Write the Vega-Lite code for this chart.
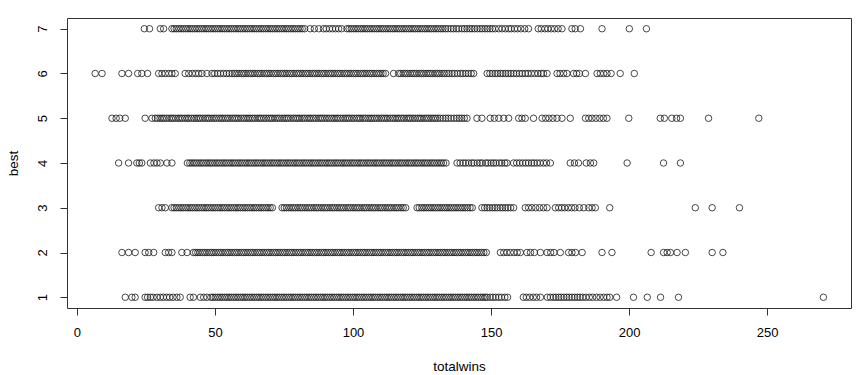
{
"$schema":"https://vega.github.io/schema/vega-lite/v6.json",
"width":784,"height":290,"autosize":"none",
"padding":{"left":67,"top":18,"right":15,"bottom":67},
"background":"white",
"config":{"view":{"stroke":"#333","strokeWidth":1}},
"datasets":{"pts":[
{"w":24.4,"b":7},{"w":26.3,"b":7},{"w":30.2,"b":7},{"w":31.4,"b":7},
{"w":34.4,"b":7},{"w":35.2,"b":7},{"w":36,"b":7},{"w":36.9,"b":7},{"w":37.7,"b":7},{"w":38.5,"b":7},{"w":39.4,"b":7},{"w":40.2,"b":7},{"w":41,"b":7},{"w":41.8,"b":7},{"w":42.7,"b":7},{"w":43.5,"b":7},{"w":44.3,"b":7},{"w":45.2,"b":7},{"w":46,"b":7},{"w":46.8,"b":7},{"w":47.6,"b":7},{"w":48.5,"b":7},{"w":49.3,"b":7},{"w":50.1,"b":7},{"w":51,"b":7},{"w":51.8,"b":7},{"w":52.6,"b":7},{"w":53.4,"b":7},{"w":54.3,"b":7},{"w":55.1,"b":7},{"w":55.9,"b":7},{"w":56.8,"b":7},{"w":57.6,"b":7},{"w":58.4,"b":7},{"w":59.2,"b":7},{"w":60.1,"b":7},{"w":60.9,"b":7},{"w":61.7,"b":7},{"w":62.6,"b":7},{"w":63.4,"b":7},{"w":64.2,"b":7},{"w":65,"b":7},{"w":65.9,"b":7},{"w":66.7,"b":7},{"w":67.5,"b":7},{"w":68.4,"b":7},{"w":69.2,"b":7},{"w":70,"b":7},{"w":70.8,"b":7},{"w":71.7,"b":7},{"w":72.5,"b":7},{"w":73.3,"b":7},{"w":74.2,"b":7},{"w":75,"b":7},{"w":75.8,"b":7},{"w":76.6,"b":7},{"w":77.5,"b":7},{"w":78.3,"b":7},{"w":79.1,"b":7},{"w":80,"b":7},{"w":80.8,"b":7},{"w":81.6,"b":7},{"w":82.5,"b":7},
{"w":84.5,"b":7},{"w":86,"b":7},{"w":87.6,"b":7},
{"w":89.3,"b":7},{"w":90.3,"b":7},{"w":91.5,"b":7},{"w":92.6,"b":7},{"w":93.7,"b":7},{"w":94.8,"b":7},{"w":95.9,"b":7},
{"w":97.8,"b":7},{"w":98.6,"b":7},{"w":99.4,"b":7},{"w":100.3,"b":7},{"w":101.1,"b":7},{"w":101.9,"b":7},{"w":102.8,"b":7},{"w":103.6,"b":7},{"w":104.4,"b":7},{"w":105.2,"b":7},{"w":106.1,"b":7},{"w":106.9,"b":7},{"w":107.7,"b":7},{"w":108.6,"b":7},{"w":109.4,"b":7},{"w":110.2,"b":7},{"w":111,"b":7},{"w":111.9,"b":7},{"w":112.7,"b":7},{"w":113.5,"b":7},{"w":114.4,"b":7},{"w":115.2,"b":7},{"w":116,"b":7},{"w":116.8,"b":7},{"w":117.7,"b":7},{"w":118.5,"b":7},{"w":119.3,"b":7},{"w":120.2,"b":7},{"w":121,"b":7},{"w":121.8,"b":7},{"w":122.6,"b":7},{"w":123.5,"b":7},{"w":124.3,"b":7},{"w":125.1,"b":7},{"w":126,"b":7},{"w":126.8,"b":7},{"w":127.6,"b":7},{"w":128.4,"b":7},{"w":129.3,"b":7},{"w":130.1,"b":7},{"w":130.9,"b":7},{"w":131.8,"b":7},{"w":132.6,"b":7},{"w":133.5,"b":7},{"w":134.4,"b":7},{"w":135.5,"b":7},{"w":136.4,"b":7},{"w":137.4,"b":7},{"w":138.3,"b":7},
{"w":139.5,"b":7},{"w":140.4,"b":7},{"w":141.3,"b":7},{"w":142.3,"b":7},{"w":143.1,"b":7},{"w":144,"b":7},{"w":145,"b":7},{"w":146,"b":7},{"w":146.8,"b":7},{"w":147.8,"b":7},{"w":148.7,"b":7},{"w":149.6,"b":7},{"w":150.5,"b":7},{"w":151.5,"b":7},{"w":152.8,"b":7},
{"w":154,"b":7},{"w":155.2,"b":7},{"w":156.4,"b":7},{"w":157.3,"b":7},{"w":158.5,"b":7},{"w":159.6,"b":7},{"w":160.8,"b":7},{"w":162.2,"b":7},{"w":163.6,"b":7},
{"w":167.1,"b":7},{"w":168.2,"b":7},{"w":169.5,"b":7},{"w":170.6,"b":7},{"w":171.8,"b":7},{"w":173,"b":7},{"w":174.3,"b":7},{"w":175.7,"b":7},
{"w":179.3,"b":7},{"w":180.5,"b":7},{"w":182.4,"b":7},{"w":190.2,"b":7},{"w":200.1,"b":7},{"w":206.3,"b":7},
{"w":6.6,"b":6},{"w":9.1,"b":6},{"w":16.3,"b":6},{"w":18.7,"b":6},{"w":22,"b":6},{"w":23.5,"b":6},{"w":25.6,"b":6},{"w":29.6,"b":6},{"w":30.8,"b":6},{"w":32,"b":6},{"w":33.3,"b":6},{"w":34.4,"b":6},{"w":35.6,"b":6},{"w":39.2,"b":6},{"w":40.5,"b":6},{"w":41.8,"b":6},{"w":43,"b":6},{"w":44.1,"b":6},{"w":45.3,"b":6},{"w":47.1,"b":6},{"w":48.9,"b":6},{"w":49.9,"b":6},{"w":51,"b":6},{"w":52,"b":6},{"w":53.1,"b":6},{"w":54.2,"b":6},{"w":55.2,"b":6},{"w":56.2,"b":6},
{"w":57.1,"b":6},{"w":57.9,"b":6},{"w":58.7,"b":6},{"w":59.6,"b":6},{"w":60.4,"b":6},{"w":61.2,"b":6},{"w":62.1,"b":6},{"w":62.9,"b":6},{"w":63.7,"b":6},{"w":64.5,"b":6},{"w":65.4,"b":6},{"w":66.2,"b":6},{"w":67,"b":6},{"w":67.9,"b":6},{"w":68.7,"b":6},{"w":69.5,"b":6},{"w":70.3,"b":6},{"w":71.2,"b":6},{"w":72,"b":6},{"w":72.8,"b":6},{"w":73.7,"b":6},{"w":74.5,"b":6},{"w":75.3,"b":6},{"w":76.1,"b":6},{"w":77,"b":6},{"w":77.8,"b":6},{"w":78.6,"b":6},{"w":79.5,"b":6},{"w":80.3,"b":6},{"w":81.1,"b":6},{"w":81.9,"b":6},{"w":82.8,"b":6},{"w":83.6,"b":6},{"w":84.4,"b":6},{"w":85.3,"b":6},{"w":86.1,"b":6},{"w":86.9,"b":6},{"w":87.7,"b":6},{"w":88.6,"b":6},{"w":89.4,"b":6},{"w":90.2,"b":6},{"w":91.1,"b":6},{"w":91.9,"b":6},{"w":92.7,"b":6},{"w":93.5,"b":6},{"w":94.4,"b":6},{"w":95.2,"b":6},{"w":96,"b":6},{"w":96.9,"b":6},{"w":97.7,"b":6},{"w":98.5,"b":6},{"w":99.3,"b":6},{"w":100.2,"b":6},{"w":101,"b":6},{"w":101.8,"b":6},{"w":102.7,"b":6},{"w":103.5,"b":6},{"w":104.3,"b":6},{"w":105.1,"b":6},{"w":106,"b":6},{"w":106.8,"b":6},{"w":107.6,"b":6},{"w":108.5,"b":6},{"w":109.3,"b":6},{"w":110.1,"b":6},{"w":110.9,"b":6},{"w":111.8,"b":6},
{"w":114.7,"b":6},
{"w":116.5,"b":6},{"w":117.3,"b":6},{"w":118.2,"b":6},{"w":119,"b":6},{"w":119.8,"b":6},{"w":120.7,"b":6},{"w":121.5,"b":6},{"w":122.3,"b":6},{"w":123.1,"b":6},{"w":124,"b":6},{"w":124.8,"b":6},{"w":125.6,"b":6},{"w":126.5,"b":6},{"w":127.3,"b":6},{"w":128.1,"b":6},{"w":128.9,"b":6},{"w":129.8,"b":6},{"w":130.6,"b":6},{"w":131.4,"b":6},{"w":132.3,"b":6},{"w":133.1,"b":6},{"w":134,"b":6},{"w":134.8,"b":6},{"w":135.9,"b":6},{"w":136.8,"b":6},{"w":137.8,"b":6},{"w":138.9,"b":6},{"w":139.8,"b":6},{"w":140.8,"b":6},{"w":141.8,"b":6},{"w":142.8,"b":6},{"w":143.7,"b":6},
{"w":148.6,"b":6},{"w":149.6,"b":6},{"w":150.5,"b":6},{"w":151.5,"b":6},{"w":152.4,"b":6},{"w":153.4,"b":6},{"w":154.3,"b":6},{"w":155.3,"b":6},{"w":156.2,"b":6},{"w":157.2,"b":6},{"w":158.2,"b":6},{"w":159.2,"b":6},{"w":160.3,"b":6},{"w":161.3,"b":6},{"w":162.4,"b":6},
{"w":163.4,"b":6},{"w":164.6,"b":6},{"w":165.8,"b":6},{"w":167,"b":6},{"w":168.2,"b":6},{"w":169,"b":6},
{"w":170.3,"b":6},{"w":173.9,"b":6},{"w":175,"b":6},{"w":176.3,"b":6},{"w":177.5,"b":6},{"w":179.9,"b":6},{"w":181,"b":6},{"w":182,"b":6},{"w":184.2,"b":6},{"w":188.4,"b":6},{"w":189.6,"b":6},{"w":190.8,"b":6},{"w":192,"b":6},{"w":193.5,"b":6},{"w":196.8,"b":6},{"w":201.9,"b":6},
{"w":12.7,"b":5},{"w":14.2,"b":5},{"w":15.5,"b":5},{"w":17.5,"b":5},{"w":24.7,"b":5},{"w":27.2,"b":5},
{"w":28.4,"b":5},{"w":29.2,"b":5},{"w":30.1,"b":5},{"w":30.9,"b":5},{"w":31.6,"b":5},{"w":32.5,"b":5},{"w":33.4,"b":5},{"w":34.2,"b":5},{"w":34.9,"b":5},{"w":35.8,"b":5},{"w":36.7,"b":5},{"w":37.4,"b":5},{"w":38.2,"b":5},{"w":39.1,"b":5},{"w":39.9,"b":5},{"w":40.6,"b":5},{"w":41.5,"b":5},{"w":42.4,"b":5},{"w":43.2,"b":5},{"w":44,"b":5},{"w":44.7,"b":5},{"w":45.6,"b":5},{"w":46.5,"b":5},{"w":47.3,"b":5},{"w":48,"b":5},{"w":48.9,"b":5},{"w":49.7,"b":5},{"w":50.5,"b":5},{"w":51.4,"b":5},{"w":52.2,"b":5},{"w":52.9,"b":5},{"w":53.8,"b":5},{"w":54.6,"b":5},{"w":55.4,"b":5},{"w":56.3,"b":5},{"w":57.1,"b":5},{"w":57.9,"b":5},{"w":58.6,"b":5},{"w":59.5,"b":5},{"w":60.4,"b":5},{"w":61.2,"b":5},{"w":62,"b":5},{"w":62.7,"b":5},{"w":63.6,"b":5},{"w":64.4,"b":5},{"w":65.3,"b":5},{"w":66.1,"b":5},{"w":66.8,"b":5},{"w":67.7,"b":5},{"w":68.5,"b":5},{"w":69.4,"b":5},{"w":70.2,"b":5},{"w":70.9,"b":5},{"w":71.8,"b":5},{"w":72.6,"b":5},{"w":73.4,"b":5},{"w":74.3,"b":5},{"w":75.1,"b":5},{"w":75.9,"b":5},{"w":76.6,"b":5},{"w":77.5,"b":5},{"w":78.4,"b":5},{"w":79.2,"b":5},{"w":80,"b":5},{"w":80.7,"b":5},{"w":81.6,"b":5},{"w":82.4,"b":5},{"w":83.3,"b":5},{"w":84.1,"b":5},{"w":84.8,"b":5},{"w":85.7,"b":5},{"w":86.5,"b":5},{"w":87.4,"b":5},{"w":88.2,"b":5},{"w":88.9,"b":5},{"w":89.8,"b":5},{"w":90.6,"b":5},{"w":91.4,"b":5},{"w":92.3,"b":5},{"w":93.1,"b":5},{"w":93.9,"b":5},{"w":94.6,"b":5},{"w":95.5,"b":5},{"w":96.4,"b":5},{"w":97.2,"b":5},{"w":98,"b":5},{"w":98.7,"b":5},{"w":99.6,"b":5},{"w":100.4,"b":5},{"w":101.3,"b":5},{"w":102.1,"b":5},{"w":102.8,"b":5},{"w":103.7,"b":5},{"w":104.5,"b":5},{"w":105.4,"b":5},{"w":106.2,"b":5},{"w":106.9,"b":5},{"w":107.8,"b":5},{"w":108.6,"b":5},{"w":109.4,"b":5},{"w":110.3,"b":5},{"w":111.1,"b":5},{"w":111.9,"b":5},{"w":112.6,"b":5},{"w":113.5,"b":5},{"w":114.4,"b":5},{"w":115.2,"b":5},{"w":116,"b":5},{"w":116.7,"b":5},{"w":117.6,"b":5},{"w":118.4,"b":5},{"w":119.3,"b":5},{"w":120.1,"b":5},{"w":120.8,"b":5},{"w":121.7,"b":5},{"w":122.5,"b":5},{"w":123.4,"b":5},{"w":124.2,"b":5},{"w":124.9,"b":5},{"w":125.8,"b":5},{"w":126.6,"b":5},{"w":127.4,"b":5},{"w":128.3,"b":5},{"w":129.1,"b":5},{"w":129.9,"b":5},{"w":130.7,"b":5},{"w":131.6,"b":5},
{"w":132.6,"b":5},{"w":133.6,"b":5},{"w":134.5,"b":5},{"w":135.5,"b":5},{"w":136.6,"b":5},{"w":137.6,"b":5},{"w":138.5,"b":5},{"w":139.4,"b":5},{"w":140.3,"b":5},{"w":141.3,"b":5},
{"w":144.9,"b":5},{"w":146.7,"b":5},{"w":149.7,"b":5},{"w":151.2,"b":5},{"w":152.8,"b":5},{"w":154.6,"b":5},{"w":156.4,"b":5},{"w":160,"b":5},{"w":161.2,"b":5},{"w":162.4,"b":5},{"w":165.4,"b":5},{"w":168.5,"b":5},{"w":169.8,"b":5},{"w":171,"b":5},{"w":172.4,"b":5},{"w":173.9,"b":5},{"w":175.7,"b":5},{"w":178.7,"b":5},{"w":184.2,"b":5},{"w":185.4,"b":5},{"w":186.6,"b":5},{"w":188,"b":5},{"w":189.4,"b":5},{"w":190.7,"b":5},{"w":192,"b":5},{"w":199.9,"b":5},{"w":211.3,"b":5},{"w":212.8,"b":5},{"w":215.5,"b":5},{"w":217.2,"b":5},{"w":218.6,"b":5},{"w":228.8,"b":5},{"w":247,"b":5},
{"w":15.1,"b":4},{"w":18.7,"b":4},{"w":21.7,"b":4},{"w":22.6,"b":4},{"w":23.5,"b":4},{"w":26.6,"b":4},{"w":27.9,"b":4},{"w":29,"b":4},{"w":30.2,"b":4},{"w":32.6,"b":4},{"w":34.4,"b":4},
{"w":40,"b":4},{"w":40.9,"b":4},{"w":41.7,"b":4},{"w":42.5,"b":4},{"w":43.3,"b":4},{"w":44.2,"b":4},{"w":45,"b":4},{"w":45.8,"b":4},{"w":46.7,"b":4},{"w":47.5,"b":4},{"w":48.3,"b":4},{"w":49.1,"b":4},{"w":50,"b":4},{"w":50.8,"b":4},{"w":51.6,"b":4},{"w":52.5,"b":4},{"w":53.3,"b":4},{"w":54.1,"b":4},{"w":55,"b":4},{"w":55.8,"b":4},{"w":56.6,"b":4},{"w":57.4,"b":4},{"w":58.3,"b":4},{"w":59.1,"b":4},{"w":59.9,"b":4},{"w":60.8,"b":4},{"w":61.6,"b":4},{"w":62.4,"b":4},{"w":63.2,"b":4},{"w":64.1,"b":4},{"w":64.9,"b":4},{"w":65.7,"b":4},{"w":66.6,"b":4},{"w":67.4,"b":4},{"w":68.2,"b":4},{"w":69,"b":4},{"w":69.9,"b":4},{"w":70.7,"b":4},{"w":71.5,"b":4},{"w":72.4,"b":4},{"w":73.2,"b":4},{"w":74,"b":4},{"w":74.8,"b":4},{"w":75.7,"b":4},{"w":76.5,"b":4},{"w":77.3,"b":4},{"w":78.2,"b":4},{"w":79,"b":4},{"w":79.8,"b":4},{"w":80.6,"b":4},{"w":81.5,"b":4},{"w":82.3,"b":4},{"w":83.1,"b":4},{"w":84,"b":4},{"w":84.8,"b":4},{"w":85.6,"b":4},{"w":86.4,"b":4},{"w":87.3,"b":4},{"w":88.1,"b":4},{"w":88.9,"b":4},{"w":89.8,"b":4},{"w":90.6,"b":4},{"w":91.4,"b":4},{"w":92.2,"b":4},{"w":93.1,"b":4},{"w":93.9,"b":4},{"w":94.7,"b":4},{"w":95.6,"b":4},{"w":96.4,"b":4},{"w":97.2,"b":4},{"w":98,"b":4},{"w":98.9,"b":4},{"w":99.7,"b":4},{"w":100.5,"b":4},{"w":101.4,"b":4},{"w":102.2,"b":4},{"w":103,"b":4},{"w":103.8,"b":4},{"w":104.7,"b":4},{"w":105.5,"b":4},{"w":106.3,"b":4},{"w":107.2,"b":4},{"w":108,"b":4},{"w":108.8,"b":4},{"w":109.6,"b":4},{"w":110.5,"b":4},{"w":111.3,"b":4},{"w":112.1,"b":4},{"w":113,"b":4},{"w":113.8,"b":4},{"w":114.6,"b":4},{"w":115.4,"b":4},{"w":116.3,"b":4},{"w":117.1,"b":4},{"w":117.9,"b":4},{"w":118.8,"b":4},{"w":119.6,"b":4},{"w":120.4,"b":4},{"w":121.2,"b":4},{"w":122.1,"b":4},{"w":122.9,"b":4},{"w":123.7,"b":4},{"w":124.6,"b":4},{"w":125.4,"b":4},{"w":126.2,"b":4},{"w":127,"b":4},{"w":127.9,"b":4},{"w":128.7,"b":4},{"w":129.5,"b":4},{"w":130.4,"b":4},{"w":131.2,"b":4},{"w":132,"b":4},{"w":132.8,"b":4},{"w":133.7,"b":4},
{"w":137.7,"b":4},{"w":138.8,"b":4},{"w":139.9,"b":4},{"w":140.8,"b":4},{"w":141.9,"b":4},{"w":143,"b":4},{"w":143.8,"b":4},{"w":145,"b":4},{"w":146,"b":4},{"w":146.8,"b":4},{"w":148.1,"b":4},{"w":148.9,"b":4},{"w":150,"b":4},{"w":150.9,"b":4},{"w":151.8,"b":4},{"w":153,"b":4},{"w":153.9,"b":4},{"w":155,"b":4},{"w":155.8,"b":4},
{"w":158.2,"b":4},{"w":159.3,"b":4},{"w":160.4,"b":4},{"w":161.5,"b":4},{"w":162.6,"b":4},{"w":163.6,"b":4},{"w":164.7,"b":4},{"w":165.6,"b":4},{"w":166.7,"b":4},{"w":167.8,"b":4},{"w":169,"b":4},{"w":170.1,"b":4},{"w":171.5,"b":4},
{"w":178.7,"b":4},{"w":180.2,"b":4},{"w":181.7,"b":4},{"w":184.5,"b":4},{"w":186,"b":4},{"w":187.2,"b":4},{"w":199.3,"b":4},{"w":212.5,"b":4},{"w":218.6,"b":4},
{"w":29.6,"b":3},{"w":30.8,"b":3},{"w":32,"b":3},
{"w":34.4,"b":3},{"w":35.2,"b":3},{"w":36,"b":3},{"w":36.9,"b":3},{"w":37.7,"b":3},{"w":38.5,"b":3},{"w":39.4,"b":3},{"w":40.2,"b":3},{"w":41,"b":3},{"w":41.8,"b":3},{"w":42.7,"b":3},{"w":43.5,"b":3},{"w":44.3,"b":3},{"w":45.2,"b":3},{"w":46,"b":3},{"w":46.8,"b":3},{"w":47.6,"b":3},{"w":48.5,"b":3},{"w":49.3,"b":3},{"w":50.1,"b":3},{"w":51,"b":3},{"w":51.8,"b":3},{"w":52.6,"b":3},{"w":53.4,"b":3},{"w":54.3,"b":3},{"w":55.1,"b":3},{"w":55.9,"b":3},{"w":56.8,"b":3},{"w":57.6,"b":3},{"w":58.4,"b":3},{"w":59.2,"b":3},{"w":60.1,"b":3},{"w":60.9,"b":3},{"w":61.7,"b":3},{"w":62.6,"b":3},{"w":63.4,"b":3},{"w":64.2,"b":3},{"w":65,"b":3},{"w":65.9,"b":3},{"w":66.7,"b":3},{"w":67.5,"b":3},{"w":68.4,"b":3},{"w":69.2,"b":3},{"w":70,"b":3},{"w":70.8,"b":3},
{"w":74.3,"b":3},{"w":75.1,"b":3},{"w":75.9,"b":3},{"w":76.8,"b":3},{"w":77.6,"b":3},{"w":78.4,"b":3},{"w":79.2,"b":3},{"w":80.1,"b":3},{"w":80.9,"b":3},{"w":81.7,"b":3},{"w":82.6,"b":3},{"w":83.4,"b":3},{"w":84.2,"b":3},{"w":85,"b":3},{"w":85.9,"b":3},{"w":86.7,"b":3},{"w":87.5,"b":3},{"w":88.4,"b":3},{"w":89.2,"b":3},{"w":90,"b":3},{"w":90.8,"b":3},{"w":91.7,"b":3},{"w":92.5,"b":3},{"w":93.3,"b":3},{"w":94.2,"b":3},{"w":95,"b":3},{"w":95.8,"b":3},{"w":96.6,"b":3},{"w":97.5,"b":3},{"w":98.3,"b":3},{"w":99.1,"b":3},{"w":100,"b":3},{"w":100.8,"b":3},{"w":101.6,"b":3},{"w":102.4,"b":3},{"w":103.3,"b":3},{"w":104.1,"b":3},{"w":104.9,"b":3},{"w":105.8,"b":3},{"w":106.6,"b":3},{"w":107.4,"b":3},{"w":108.2,"b":3},{"w":109.1,"b":3},{"w":109.9,"b":3},{"w":110.7,"b":3},{"w":111.6,"b":3},{"w":112.4,"b":3},{"w":113.2,"b":3},{"w":114,"b":3},{"w":114.9,"b":3},{"w":115.7,"b":3},{"w":116.5,"b":3},{"w":117.4,"b":3},{"w":118.2,"b":3},{"w":119.1,"b":3},
{"w":123.2,"b":3},{"w":124,"b":3},{"w":124.9,"b":3},{"w":125.7,"b":3},{"w":126.5,"b":3},{"w":127.4,"b":3},{"w":128.2,"b":3},{"w":129,"b":3},{"w":129.8,"b":3},{"w":130.7,"b":3},{"w":131.5,"b":3},{"w":132.3,"b":3},{"w":133.2,"b":3},{"w":134,"b":3},{"w":134.8,"b":3},{"w":135.6,"b":3},{"w":136.5,"b":3},{"w":137.3,"b":3},{"w":138.1,"b":3},{"w":139,"b":3},{"w":139.8,"b":3},{"w":140.6,"b":3},{"w":141.5,"b":3},{"w":142.4,"b":3},{"w":143.2,"b":3},
{"w":146.7,"b":3},{"w":147.7,"b":3},{"w":148.6,"b":3},{"w":149.5,"b":3},{"w":150.5,"b":3},{"w":151.4,"b":3},{"w":152.3,"b":3},{"w":153.3,"b":3},{"w":154.2,"b":3},{"w":155.2,"b":3},{"w":156.1,"b":3},{"w":157.1,"b":3},{"w":158.2,"b":3},
{"w":162.4,"b":3},{"w":163.6,"b":3},{"w":164.8,"b":3},{"w":166.2,"b":3},{"w":167.6,"b":3},{"w":169,"b":3},{"w":170.3,"b":3},
{"w":173.3,"b":3},{"w":174.5,"b":3},{"w":175.6,"b":3},{"w":176.7,"b":3},{"w":178,"b":3},{"w":179.2,"b":3},{"w":180.4,"b":3},{"w":182,"b":3},{"w":183.6,"b":3},
{"w":185.4,"b":3},{"w":186.6,"b":3},{"w":187.8,"b":3},{"w":193,"b":3},{"w":224,"b":3},{"w":230.1,"b":3},{"w":240,"b":3},
{"w":16.3,"b":2},{"w":18.7,"b":2},{"w":21.1,"b":2},{"w":24.7,"b":2},{"w":26,"b":2},{"w":27.8,"b":2},{"w":32,"b":2},{"w":33.2,"b":2},{"w":34.4,"b":2},{"w":38,"b":2},{"w":39.9,"b":2},
{"w":42.2,"b":2},{"w":43,"b":2},{"w":43.8,"b":2},{"w":44.6,"b":2},{"w":45.5,"b":2},{"w":46.3,"b":2},{"w":47.1,"b":2},{"w":48,"b":2},{"w":48.8,"b":2},{"w":49.6,"b":2},{"w":50.4,"b":2},{"w":51.3,"b":2},{"w":52.1,"b":2},{"w":52.9,"b":2},{"w":53.8,"b":2},{"w":54.6,"b":2},{"w":55.4,"b":2},{"w":56.2,"b":2},{"w":57.1,"b":2},{"w":57.9,"b":2},{"w":58.7,"b":2},{"w":59.6,"b":2},{"w":60.4,"b":2},{"w":61.2,"b":2},{"w":62,"b":2},{"w":62.9,"b":2},{"w":63.7,"b":2},{"w":64.5,"b":2},{"w":65.4,"b":2},{"w":66.2,"b":2},{"w":67,"b":2},{"w":67.8,"b":2},{"w":68.7,"b":2},{"w":69.5,"b":2},{"w":70.3,"b":2},{"w":71.2,"b":2},{"w":72,"b":2},{"w":72.8,"b":2},{"w":73.6,"b":2},{"w":74.5,"b":2},{"w":75.3,"b":2},{"w":76.1,"b":2},{"w":77,"b":2},{"w":77.8,"b":2},{"w":78.6,"b":2},{"w":79.4,"b":2},{"w":80.3,"b":2},{"w":81.1,"b":2},{"w":81.9,"b":2},{"w":82.8,"b":2},{"w":83.6,"b":2},{"w":84.4,"b":2},{"w":85.2,"b":2},{"w":86.1,"b":2},{"w":86.9,"b":2},{"w":87.7,"b":2},{"w":88.6,"b":2},{"w":89.4,"b":2},{"w":90.2,"b":2},{"w":91,"b":2},{"w":91.9,"b":2},{"w":92.7,"b":2},{"w":93.5,"b":2},{"w":94.4,"b":2},{"w":95.2,"b":2},{"w":96,"b":2},{"w":96.8,"b":2},{"w":97.7,"b":2},{"w":98.5,"b":2},{"w":99.3,"b":2},{"w":100.2,"b":2},{"w":101,"b":2},{"w":101.8,"b":2},{"w":102.6,"b":2},{"w":103.5,"b":2},{"w":104.3,"b":2},{"w":105.1,"b":2},{"w":106,"b":2},{"w":106.8,"b":2},{"w":107.6,"b":2},{"w":108.4,"b":2},{"w":109.3,"b":2},{"w":110.1,"b":2},{"w":110.9,"b":2},{"w":111.8,"b":2},{"w":112.6,"b":2},{"w":113.4,"b":2},{"w":114.2,"b":2},{"w":115.1,"b":2},{"w":115.9,"b":2},{"w":116.7,"b":2},{"w":117.6,"b":2},{"w":118.4,"b":2},{"w":119.2,"b":2},{"w":120,"b":2},{"w":120.9,"b":2},{"w":121.7,"b":2},{"w":122.5,"b":2},{"w":123.4,"b":2},{"w":124.2,"b":2},{"w":125,"b":2},{"w":125.8,"b":2},{"w":126.7,"b":2},{"w":127.5,"b":2},{"w":128.3,"b":2},{"w":129.2,"b":2},{"w":130,"b":2},{"w":130.8,"b":2},{"w":131.6,"b":2},{"w":132.5,"b":2},{"w":133.3,"b":2},{"w":134.1,"b":2},{"w":135,"b":2},{"w":135.8,"b":2},{"w":136.6,"b":2},{"w":137.4,"b":2},{"w":138.3,"b":2},{"w":139.1,"b":2},{"w":139.9,"b":2},{"w":140.8,"b":2},{"w":141.6,"b":2},{"w":142.4,"b":2},{"w":143.2,"b":2},{"w":144.1,"b":2},{"w":144.9,"b":2},{"w":145.7,"b":2},{"w":146.6,"b":2},{"w":147.4,"b":2},{"w":148.3,"b":2},
{"w":153.4,"b":2},{"w":154.6,"b":2},{"w":155.8,"b":2},{"w":157,"b":2},{"w":158.3,"b":2},{"w":159.5,"b":2},{"w":160.6,"b":2},
{"w":163,"b":2},{"w":164.3,"b":2},{"w":165.7,"b":2},{"w":167.9,"b":2},{"w":170.3,"b":2},{"w":171.6,"b":2},{"w":172.8,"b":2},{"w":175.1,"b":2},{"w":178.1,"b":2},{"w":179.3,"b":2},{"w":180.6,"b":2},{"w":183,"b":2},
{"w":190.2,"b":2},{"w":193.8,"b":2},{"w":208,"b":2},{"w":212.5,"b":2},{"w":213.8,"b":2},{"w":215,"b":2},{"w":217.4,"b":2},{"w":220.4,"b":2},{"w":230.1,"b":2},{"w":234,"b":2},
{"w":17.5,"b":1},{"w":19.9,"b":1},{"w":21.1,"b":1},{"w":24.7,"b":1},{"w":25.6,"b":1},{"w":26.6,"b":1},{"w":27.6,"b":1},{"w":29,"b":1},{"w":30.2,"b":1},{"w":31.3,"b":1},{"w":32.5,"b":1},{"w":33.6,"b":1},{"w":34.8,"b":1},{"w":36.2,"b":1},{"w":37.4,"b":1},{"w":41,"b":1},{"w":42.2,"b":1},{"w":44.7,"b":1},{"w":45.9,"b":1},{"w":47.1,"b":1},
{"w":48.5,"b":1},{"w":49.3,"b":1},{"w":50.1,"b":1},{"w":51,"b":1},{"w":51.8,"b":1},{"w":52.6,"b":1},{"w":53.5,"b":1},{"w":54.3,"b":1},{"w":55.1,"b":1},{"w":55.9,"b":1},{"w":56.8,"b":1},{"w":57.6,"b":1},{"w":58.4,"b":1},{"w":59.3,"b":1},{"w":60.1,"b":1},{"w":60.9,"b":1},{"w":61.7,"b":1},{"w":62.6,"b":1},{"w":63.4,"b":1},{"w":64.2,"b":1},{"w":65.1,"b":1},{"w":65.9,"b":1},{"w":66.7,"b":1},{"w":67.5,"b":1},{"w":68.4,"b":1},{"w":69.2,"b":1},{"w":70,"b":1},{"w":70.9,"b":1},{"w":71.7,"b":1},{"w":72.5,"b":1},{"w":73.3,"b":1},{"w":74.2,"b":1},{"w":75,"b":1},{"w":75.8,"b":1},{"w":76.7,"b":1},{"w":77.5,"b":1},{"w":78.3,"b":1},{"w":79.1,"b":1},{"w":80,"b":1},{"w":80.8,"b":1},{"w":81.6,"b":1},{"w":82.5,"b":1},{"w":83.3,"b":1},{"w":84.1,"b":1},{"w":84.9,"b":1},{"w":85.8,"b":1},{"w":86.6,"b":1},{"w":87.4,"b":1},{"w":88.3,"b":1},{"w":89.1,"b":1},{"w":89.9,"b":1},{"w":90.7,"b":1},{"w":91.6,"b":1},{"w":92.4,"b":1},{"w":93.2,"b":1},{"w":94.1,"b":1},{"w":94.9,"b":1},{"w":95.7,"b":1},{"w":96.5,"b":1},{"w":97.4,"b":1},{"w":98.2,"b":1},{"w":99,"b":1},{"w":99.9,"b":1},{"w":100.7,"b":1},{"w":101.5,"b":1},{"w":102.3,"b":1},{"w":103.2,"b":1},{"w":104,"b":1},{"w":104.8,"b":1},{"w":105.7,"b":1},{"w":106.5,"b":1},{"w":107.3,"b":1},{"w":108.1,"b":1},{"w":109,"b":1},{"w":109.8,"b":1},{"w":110.6,"b":1},{"w":111.5,"b":1},{"w":112.3,"b":1},{"w":113.1,"b":1},{"w":113.9,"b":1},{"w":114.8,"b":1},{"w":115.6,"b":1},{"w":116.4,"b":1},{"w":117.3,"b":1},{"w":118.1,"b":1},{"w":118.9,"b":1},{"w":119.7,"b":1},{"w":120.6,"b":1},{"w":121.4,"b":1},{"w":122.2,"b":1},{"w":123.1,"b":1},{"w":123.9,"b":1},{"w":124.7,"b":1},{"w":125.5,"b":1},{"w":126.4,"b":1},{"w":127.2,"b":1},{"w":128,"b":1},{"w":128.9,"b":1},{"w":129.7,"b":1},{"w":130.5,"b":1},{"w":131.3,"b":1},{"w":132.2,"b":1},{"w":133,"b":1},{"w":133.8,"b":1},{"w":134.7,"b":1},{"w":135.5,"b":1},{"w":136.3,"b":1},{"w":137.1,"b":1},{"w":138,"b":1},{"w":138.8,"b":1},{"w":139.6,"b":1},{"w":140.5,"b":1},{"w":141.3,"b":1},{"w":142.1,"b":1},{"w":142.9,"b":1},{"w":143.8,"b":1},{"w":144.6,"b":1},{"w":145.4,"b":1},{"w":146.3,"b":1},{"w":147.1,"b":1},{"w":147.9,"b":1},{"w":148.6,"b":1},
{"w":149.7,"b":1},{"w":150.7,"b":1},{"w":151.7,"b":1},{"w":152.8,"b":1},{"w":153.8,"b":1},{"w":155,"b":1},{"w":156,"b":1},
{"w":161.7,"b":1},{"w":162.8,"b":1},{"w":164,"b":1},{"w":165.3,"b":1},{"w":166.5,"b":1},{"w":167.9,"b":1},
{"w":170.4,"b":1},{"w":171.5,"b":1},{"w":172.6,"b":1},{"w":173.5,"b":1},{"w":174.5,"b":1},{"w":175.4,"b":1},{"w":176.4,"b":1},{"w":177.4,"b":1},{"w":178.3,"b":1},{"w":179.3,"b":1},{"w":180.3,"b":1},{"w":181.3,"b":1},{"w":182.2,"b":1},{"w":183.2,"b":1},{"w":184.4,"b":1},{"w":185.6,"b":1},{"w":186.8,"b":1},{"w":188.2,"b":1},{"w":189.5,"b":1},{"w":190.8,"b":1},{"w":192,"b":1},
{"w":193,"b":1},{"w":195.5,"b":1},{"w":201.6,"b":1},{"w":206.6,"b":1},{"w":211.4,"b":1},{"w":217.9,"b":1},{"w":270.4,"b":1}
]},
"data":{"name":"pts"},
"mark":{"type":"point","shape":"circle","filled":false,"size":42,"stroke":"#1a1a1a","strokeWidth":0.8,"opacity":1},
"encoding":{
"x":{"field":"w","type":"quantitative","scale":{"domain":[-3.6,280.4],"nice":false,"zero":false},
"axis":{"title":"totalwins","values":[0,50,100,150,200,250],"grid":false,"domain":false,"ticks":true,"tickSize":7,"tickColor":"#333","tickWidth":1,"labelFlush":false,"labelPadding":11,"labelFont":"Liberation Sans","labelFontSize":13,"labelColor":"#000","titleFont":"Liberation Sans","titleFontSize":13.5,"titleFontWeight":"normal","titleColor":"#000","titlePadding":20}},
"y":{"field":"b","type":"quantitative","scale":{"domain":[0.76,7.24],"nice":false,"zero":false},
"axis":{"title":"best","values":[1,2,3,4,5,6,7],"grid":false,"domain":false,"ticks":true,"tickSize":7,"tickColor":"#333","tickWidth":1,"labelFlush":false,"labelAngle":-90,"labelAlign":"center","labelBaseline":"bottom","labelPadding":11,"labelFont":"Liberation Sans","labelFontSize":13,"labelColor":"#000","titleFont":"Liberation Sans","titleFontSize":13.5,"titleFontWeight":"normal","titleColor":"#000","titlePadding":16,
"encode":{"labels":{"update":{"angle":{"value":-90},"align":{"value":"center"},"baseline":{"value":"bottom"}}}}}}
}
}
